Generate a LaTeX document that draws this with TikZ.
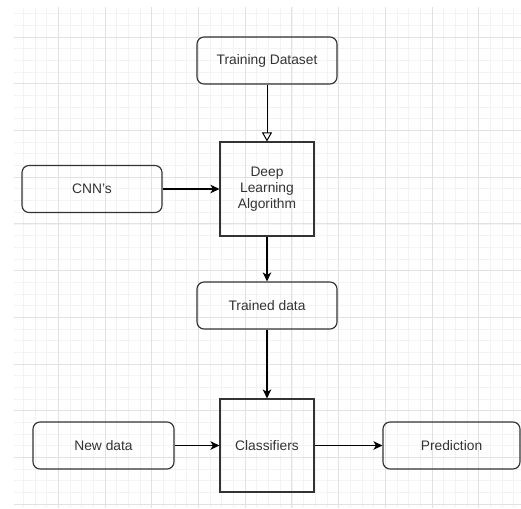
\documentclass[tikz,border=0pt]{standalone}
\usepackage{fontspec}
\setmainfont{Liberation Sans}
\usetikzlibrary{arrows.meta}
\definecolor{ink}{HTML}{333333}
\definecolor{majorgrid}{HTML}{E2E2E2}
\definecolor{minorgrid}{HTML}{F3F3F3}
\tikzset{
  roundbox/.style={draw=ink, line width=1.15pt, rounded corners=7pt, minimum width=140pt, minimum height=47pt, inner sep=0pt, text=ink, font=\fontsize{13.8}{16}\selectfont},
  squarebox/.style={draw=ink, line width=1.15pt, minimum width=94pt, minimum height=94pt, inner sep=0pt, text=ink, align=center, font=\fontsize{13.8}{16}\selectfont},
  flow/.style={draw=black, line width=1.1pt, -{Stealth[length=9pt, width=8.5pt, inset=2.5pt]}},
  openflow/.style={draw=black, line width=1.0pt, -{Triangle[open, length=9pt, width=10pt]}}
}
\begin{document}
\begin{tikzpicture}[x=1pt, y=-1pt]
\useasboundingbox (0,0) rectangle (521,508);
\fill[white] (0,0) rectangle (521,508);
% grid
\begin{scope}
\clip (14,8) rectangle (521,507);
\foreach \i in {-1,...,45} {
  \draw[minorgrid, line width=0.6pt] ({11.6+11.675*\i},0) -- ({11.6+11.675*\i},508);
  \draw[minorgrid, line width=0.6pt] (0,{-9.7+11.675*\i}) -- (521,{-9.7+11.675*\i});
}
\foreach \i in {0,...,11} {
  \draw[majorgrid, line width=0.8pt] ({11.6+46.7*\i},0) -- ({11.6+46.7*\i},508);
  \draw[majorgrid, line width=0.8pt] (0,{-9.7+46.7*\i}) -- (521,{-9.7+46.7*\i});
}
\end{scope}
% nodes
\node[roundbox] (train) at (267,60.5) {Training Dataset};
\node[squarebox] (dla) at (267,189) {Deep\\Learning\\Algorithm};
\node[roundbox] (cnn) at (92,189) {CNN's};
\node[roundbox] (trained) at (267,305.5) {Trained data};
\node[squarebox, minimum height=93pt] (clf) at (267,445.5) {Classifiers};
\node[roundbox, minimum width=141pt] (newd) at (103.5,445.5) {New data};
\node[roundbox, minimum width=137pt] (pred) at (451.5,445.5) {Prediction};
% connectors
\draw[openflow] (train) -- (dla);
\draw[flow] (cnn) -- (dla);
\draw[flow] (dla) -- (trained);
\draw[flow] (trained) -- (clf);
\draw[flow] (newd) -- (clf);
\draw[flow] (clf) -- (pred);
\end{tikzpicture}
\end{document}
